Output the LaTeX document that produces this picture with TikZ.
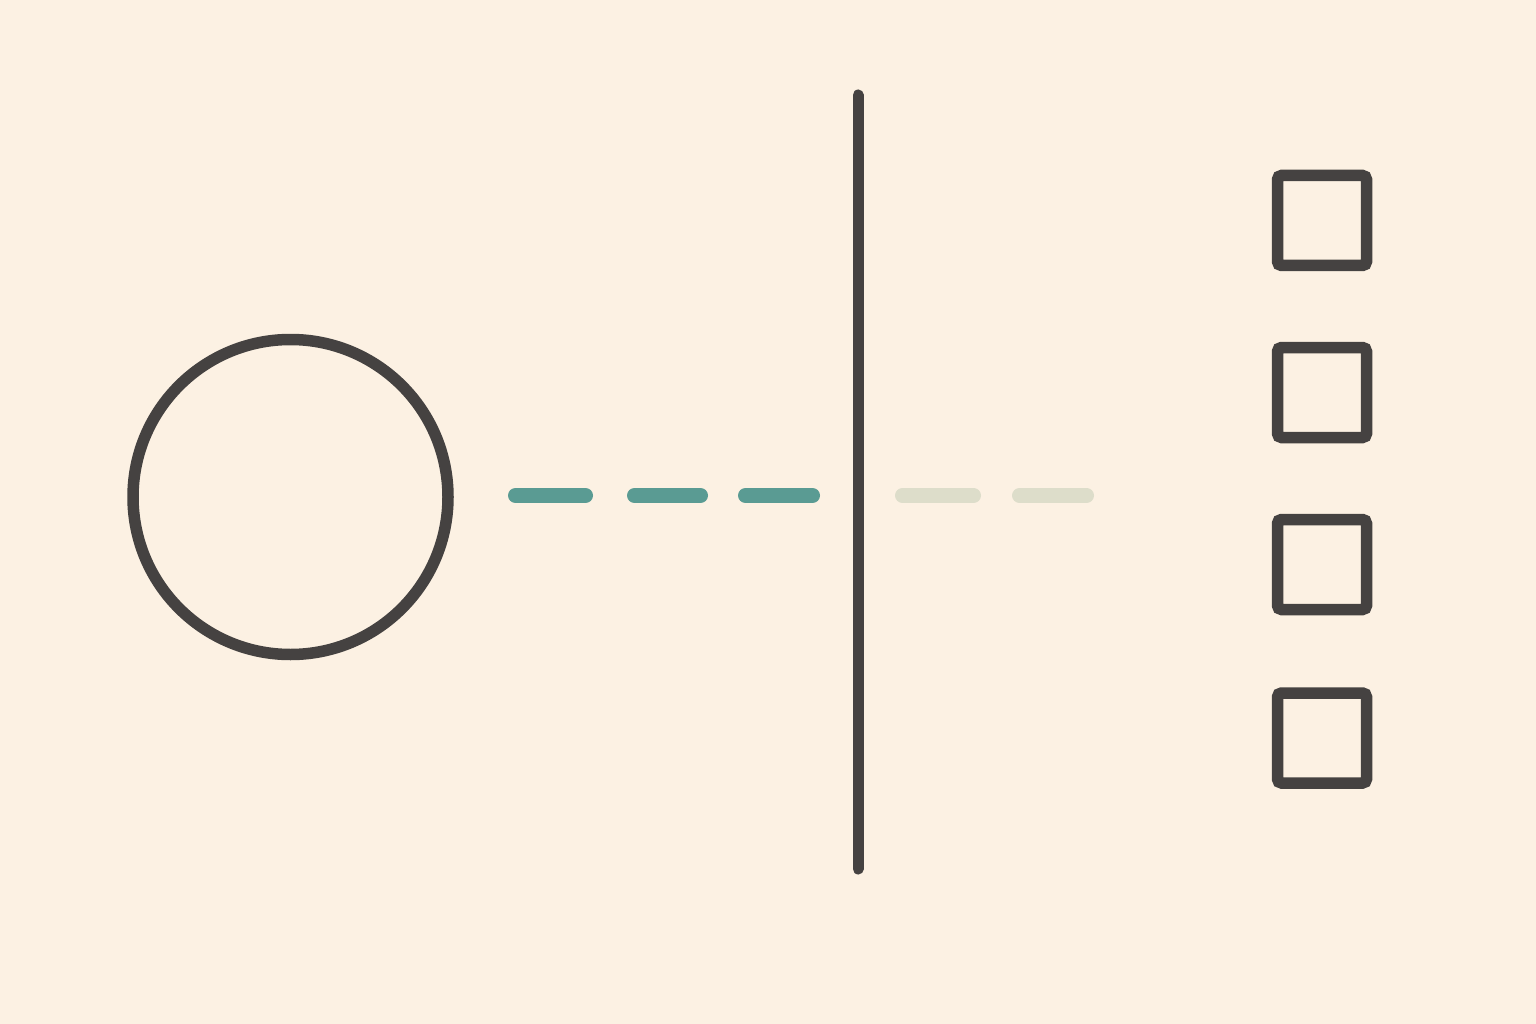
\documentclass[tikz,border=0pt]{standalone}
\definecolor{bgc}{HTML}{FCF1E3}
\definecolor{ink}{HTML}{454241}
\definecolor{tealc}{HTML}{5A9B93}
\definecolor{faintc}{HTML}{DDDDCA}
\tikzset{
  shapeline/.style={draw=ink, line width=11.5pt},
  boxnode/.style={shapeline, rectangle, rounded corners=4pt, minimum width=89pt, minimum height=90pt, inner sep=0pt, outer sep=0pt},
  ringnode/.style={shapeline, circle, minimum size=315pt, inner sep=0pt, outer sep=0pt},
  dashseg/.style={line width=15pt, line cap=round},
}
\begin{document}
\begin{tikzpicture}[x=1pt,y=-1pt]
\fill[bgc] (0,0) rectangle (1536,1024);
\useasboundingbox (0,0) rectangle (1536,1024);
\node[ringnode] (ring) at (290.5,497) {};
\coordinate (wtop) at (858,95);
\coordinate (wbot) at (858,869);
\draw[draw=ink, line width=11pt, line cap=round] (wtop) -- (wbot);
\foreach \i/\y in {1/220.5, 2/392.5, 3/564.5, 4/738} {
  \node[boxnode] (box\i) at (1322,\y) {};
}
\coordinate (d1a) at (515.5,495.5); \coordinate (d1b) at (585.5,495.5);
\coordinate (d2a) at (634.5,495.5); \coordinate (d2b) at (700.5,495.5);
\coordinate (d3a) at (745.5,495.5); \coordinate (d3b) at (812.5,495.5);
\coordinate (d4a) at (902.5,495.5); \coordinate (d4b) at (973.5,495.5);
\coordinate (d5a) at (1019.5,495.5); \coordinate (d5b) at (1086.5,495.5);
\draw[dashseg, draw=tealc] (d1a) -- (d1b);
\draw[dashseg, draw=tealc] (d2a) -- (d2b);
\draw[dashseg, draw=tealc] (d3a) -- (d3b);
\draw[dashseg, draw=faintc] (d4a) -- (d4b);
\draw[dashseg, draw=faintc] (d5a) -- (d5b);
\end{tikzpicture}
\end{document}
